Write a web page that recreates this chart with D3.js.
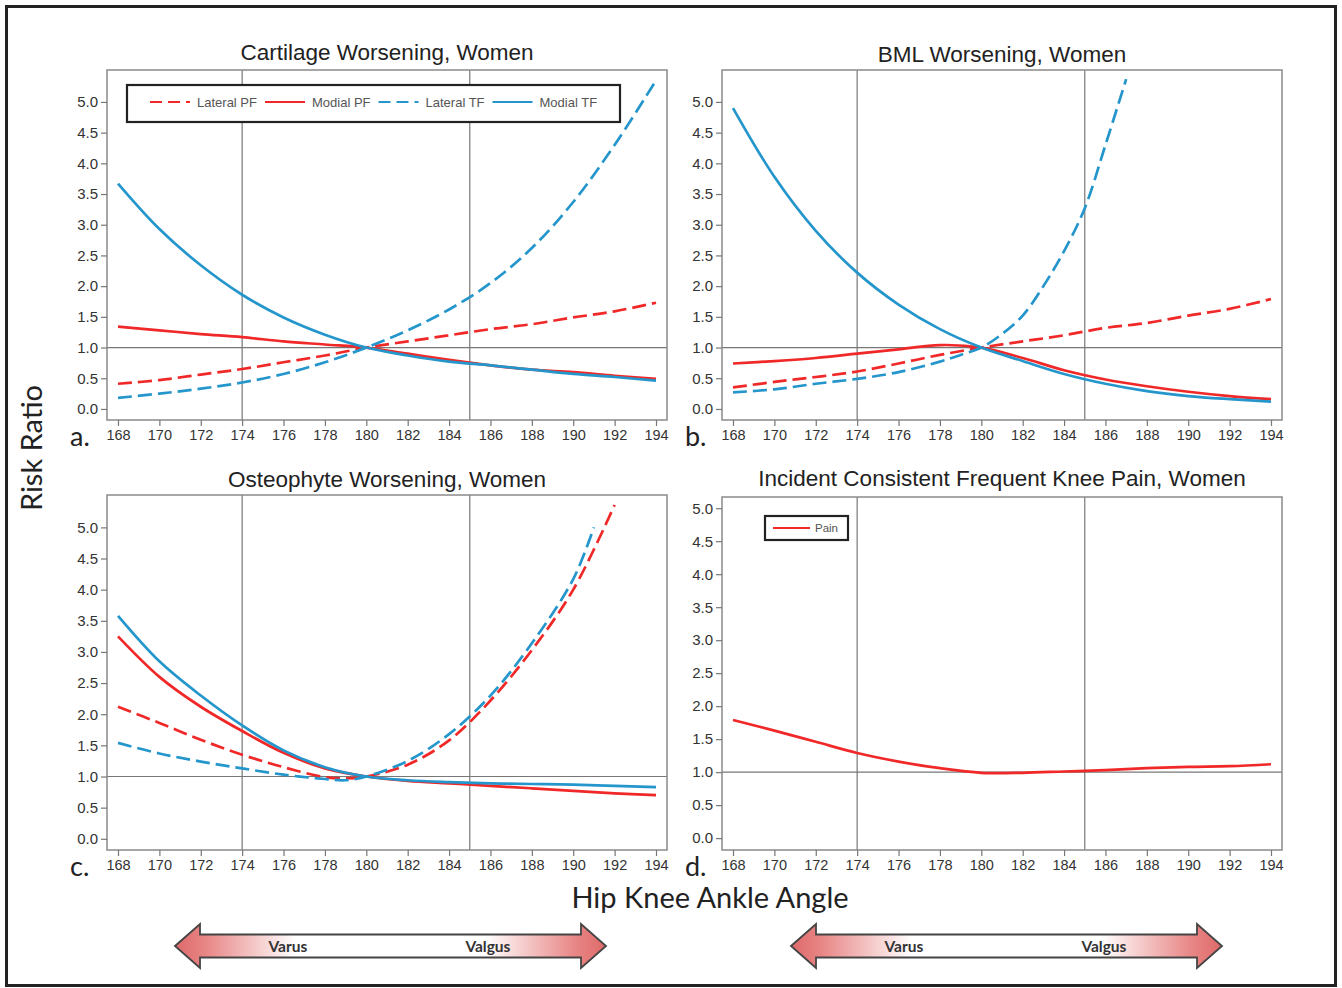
<!DOCTYPE html>
<html>
<head>
<meta charset="utf-8">
<script src="https://cdn.jsdelivr.net/npm/d3@7/dist/d3.min.js"></script>
<style>
  body { margin: 0; background: #fff; }
  svg { display: block; }
</style>
</head>
<body>
<svg width="1342" height="988"></svg>
<script>
// ---- data ----
const angles = [168, 170, 172, 174, 176, 178, 180, 182, 184, 186, 188, 190, 192, 194];
const xTicks = d3.range(168, 195, 2);
const yTicks = [0, 0.5, 1, 1.5, 2, 2.5, 3, 3.5, 4, 4.5, 5];
const refAngles = [174, 185];

// a. cartilage
const cartLatPF = [0.41, 0.47, 0.56, 0.65, 0.76, 0.87, 1.0, 1.10, 1.20, 1.30, 1.38, 1.49, 1.59, 1.73];
const cartModPF = [1.34, 1.28, 1.22, 1.17, 1.10, 1.05, 1.0, 0.90, 0.80, 0.71, 0.64, 0.60, 0.54, 0.49];
const cartLatTF = [0.18, 0.25, 0.33, 0.43, 0.57, 0.76, 1.0, 1.28, 1.62, 2.05, 2.62, 3.37, 4.30, 5.35];
const cartModTF = [3.67, 2.93, 2.34, 1.86, 1.49, 1.21, 1.0, 0.87, 0.77, 0.71, 0.64, 0.57, 0.52, 0.46];

// b. BML
const bmlLatPF = [0.35, 0.44, 0.52, 0.61, 0.74, 0.88, 1.0, 1.10, 1.20, 1.32, 1.40, 1.52, 1.63, 1.79];
const bmlModPF = [0.74, 0.78, 0.83, 0.90, 0.97, 1.04, 1.0, 0.83, 0.63, 0.48, 0.37, 0.28, 0.21, 0.16];
const bmlLatTFAngles = [168, 170, 172, 174, 176, 178, 179, 180, 181, 182, 183, 184, 185, 186, 187];
const bmlLatTF = [0.27, 0.32, 0.41, 0.49, 0.60, 0.77, 0.88, 1.0, 1.22, 1.52, 2.0, 2.57, 3.27, 4.3, 5.37];
const bmlModTF = [4.90, 3.78, 2.90, 2.22, 1.70, 1.30, 1.0, 0.78, 0.57, 0.41, 0.29, 0.21, 0.16, 0.12];

// c. osteophyte
const ostLatPFAngles = [168, 170, 172, 174, 176, 178, 179, 180, 182, 184, 186, 188, 190, 192];
const ostLatPF = [2.12, 1.86, 1.59, 1.35, 1.15, 0.99, 0.97, 1.0, 1.19, 1.58, 2.22, 3.03, 4.0, 5.36];
const ostModPF = [3.25, 2.60, 2.12, 1.73, 1.38, 1.13, 1.0, 0.93, 0.89, 0.85, 0.81, 0.77, 0.73, 0.70];
const ostLatTFAngles = [168, 170, 172, 174, 176, 178, 179, 180, 182, 184, 186, 188, 190, 191];
const ostLatTF = [1.54, 1.37, 1.24, 1.13, 1.03, 0.96, 0.94, 1.0, 1.25, 1.68, 2.30, 3.14, 4.17, 5.0];
const ostModTF = [3.58, 2.85, 2.30, 1.82, 1.42, 1.15, 1.0, 0.94, 0.91, 0.89, 0.88, 0.87, 0.85, 0.83];

// d. pain
const painVals = [1.79, 1.63, 1.46, 1.29, 1.16, 1.06, 0.99, 0.99, 1.01, 1.03, 1.06, 1.08, 1.09, 1.12];

const legendNames = ['Lateral PF', 'Modial PF', 'Lateral TF', 'Modial TF'];

const RED = '#f02828';
const BLUE = '#2596cc';
const DASH = '14,6';

const svg = d3.select('svg');

const pair = (xs, ys) => xs.map((x, i) => [x, ys[i]]);

const panels = [
  { id: 'a', title: 'Cartilage Worsening, Women', x0: 107, y0: 70, h: 350, yTop: 5.52, ty: -10,
    series: [
      { pts: pair(angles, cartLatPF), color: RED, dash: true },
      { pts: pair(angles, cartModPF), color: RED, dash: false },
      { pts: pair(angles, cartLatTF), color: BLUE, dash: true },
      { pts: pair(angles, cartModTF), color: BLUE, dash: false }
    ] },
  { id: 'b', title: 'BML Worsening, Women', x0: 722, y0: 70, h: 350, yTop: 5.52, ty: -8,
    series: [
      { pts: pair(angles, bmlLatPF), color: RED, dash: true },
      { pts: pair(angles, bmlModPF), color: RED, dash: false },
      { pts: pair(bmlLatTFAngles, bmlLatTF), color: BLUE, dash: true },
      { pts: pair(angles, bmlModTF), color: BLUE, dash: false }
    ] },
  { id: 'c', title: 'Osteophyte Worsening, Women', x0: 107, y0: 495, h: 355, yTop: 5.52, ty: -8,
    series: [
      { pts: pair(ostLatPFAngles, ostLatPF), color: RED, dash: true },
      { pts: pair(angles, ostModPF), color: RED, dash: false },
      { pts: pair(ostLatTFAngles, ostLatTF), color: BLUE, dash: true },
      { pts: pair(angles, ostModTF), color: BLUE, dash: false }
    ] },
  { id: 'd', title: 'Incident Consistent Frequent Knee Pain, Women', x0: 722, y0: 497, h: 353, yTop: 5.17, ty: -11,
    series: [
      { pts: pair(angles, painVals), color: RED, dash: false }
    ] }
];

const W = 560;
const FONT = 'Liberation Sans, Arial, sans-serif';

panels.forEach(p => {
  const H = p.h;
  const g = svg.append('g').attr('transform', `translate(${p.x0},${p.y0})`);

  const x = d3.scaleLinear().domain([168, 194]).range([11, W - 11]);
  const y = d3.scaleLinear().domain([-0.18, p.yTop]).range([H, 0]);

  g.append('clipPath').attr('id', 'clip-' + p.id)
    .append('rect').attr('width', W).attr('height', H);

  // reference lines
  g.selectAll('.vref').data(refAngles).enter().append('line')
    .attr('x1', d => x(d)).attr('x2', d => x(d))
    .attr('y1', 0).attr('y2', H)
    .attr('stroke', '#777').attr('stroke-width', 1.2);
  g.append('line')
    .attr('x1', 0).attr('x2', W).attr('y1', y(1)).attr('y2', y(1))
    .attr('stroke', '#777').attr('stroke-width', 1.2);

  const line = d3.line()
    .x(d => x(d[0])).y(d => y(d[1]))
    .curve(d3.curveCatmullRom.alpha(0.5));

  g.append('g').attr('clip-path', `url(#clip-${p.id})`)
    .selectAll('path').data(p.series).enter().append('path')
    .attr('d', d => line(d.pts))
    .attr('fill', 'none')
    .attr('stroke', d => d.color)
    .attr('stroke-width', 2.7)
    .attr('stroke-dasharray', d => d.dash ? DASH : null);

  // frame
  g.append('rect').attr('width', W).attr('height', H)
    .attr('fill', 'none').attr('stroke', '#8a8a8a').attr('stroke-width', 1.5);

  // axes
  const xa = g.append('g').attr('transform', `translate(0,${H})`)
    .call(d3.axisBottom(x).tickValues(xTicks).tickSize(6).tickPadding(4).tickSizeOuter(0));
  const ya = g.append('g')
    .call(d3.axisLeft(y).tickValues(yTicks).tickFormat(d3.format('.1f')).tickSize(6).tickPadding(3).tickSizeOuter(0));
  [xa, ya].forEach(a => {
    a.select('.domain').remove();
    a.selectAll('line').attr('stroke', '#777').attr('stroke-width', 1.2);
    a.selectAll('text').attr('fill', '#333').style('font-family', FONT);
  });
  xa.selectAll('text').style('font-size', '14.5px');
  ya.selectAll('text').style('font-size', '15px');

  // title
  g.append('text').attr('x', W / 2).attr('y', p.ty)
    .attr('text-anchor', 'middle')
    .style('font-family', FONT)
    .style('font-size', '22.5px').attr('fill', '#222')
    .text(p.title);

  // panel letter
  g.append('text').attr('x', -37).attr('y', H + 26)
    .style('font-family', 'Lato, sans-serif').style('font-size', '27px')
    .attr('fill', '#222').text(p.id + '.');
});

// ---- legend, panel a ----
const lg = svg.append('g').attr('transform', 'translate(127,85)');
lg.append('rect').attr('width', 493).attr('height', 37)
  .attr('fill', '#fff').attr('stroke', '#222').attr('stroke-width', 2.2);
const legendStyles = [
  { color: RED, dash: '12,6' }, { color: RED, dash: null },
  { color: BLUE, dash: '12,6' }, { color: BLUE, dash: null }
];
let lx = 23;
legendNames.forEach((name, i) => {
  lg.append('line').attr('x1', lx).attr('x2', lx + 40).attr('y1', 17).attr('y2', 17)
    .attr('stroke', legendStyles[i].color).attr('stroke-width', 2)
    .attr('stroke-dasharray', legendStyles[i].dash);
  const t = lg.append('text').attr('x', lx + 47).attr('y', 21.5)
    .style('font-family', FONT).style('font-size', '13px')
    .attr('fill', '#555').text(name);
  lx += 47 + t.node().getComputedTextLength() + 8;
});

// ---- legend, panel d ----
const ld = svg.append('g').attr('transform', 'translate(765,516)');
ld.append('rect').attr('width', 83).attr('height', 24)
  .attr('fill', '#fff').attr('stroke', '#222').attr('stroke-width', 2.2);
ld.append('line').attr('x1', 8).attr('x2', 45).attr('y1', 12).attr('y2', 12)
  .attr('stroke', RED).attr('stroke-width', 2);
ld.append('text').attr('x', 50).attr('y', 16)
  .style('font-family', FONT).style('font-size', '11.5px')
  .attr('fill', '#555').text('Pain');

// ---- axis titles ----
svg.append('text')
  .attr('transform', 'translate(42,448) rotate(-90)')
  .attr('text-anchor', 'middle')
  .style('font-family', 'Lato, sans-serif').style('font-size', '29px')
  .attr('fill', '#222').text('Risk Ratio');
svg.append('text')
  .attr('x', 710).attr('y', 908).attr('text-anchor', 'middle')
  .style('font-family', 'Lato, sans-serif').style('font-size', '29px')
  .attr('fill', '#222').text('Hip Knee Ankle Angle');

// ---- varus / valgus arrows ----
const defs = svg.append('defs');
const grad = defs.append('linearGradient').attr('id', 'arrowGrad');
[[0, '#de6a6a'], [0.07, '#e88585'], [0.28, '#ffffff'], [0.72, '#ffffff'], [0.93, '#e88585'], [1, '#de6a6a']]
  .forEach(([o, c]) => grad.append('stop').attr('offset', o).attr('stop-color', c));

const arrows = [{ left: 175, right: 606 }, { left: 791, right: 1222 }];
arrows.forEach(a => {
  const cy = 946, head = 25, hh = 22, sh = 11.5;
  const pts = [
    [a.left, cy], [a.left + head, cy - hh], [a.left + head, cy - sh],
    [a.right - head, cy - sh], [a.right - head, cy - hh], [a.right, cy],
    [a.right - head, cy + hh], [a.right - head, cy + sh],
    [a.left + head, cy + sh], [a.left + head, cy + hh]
  ];
  svg.append('path')
    .attr('d', d3.line()(pts) + 'Z')
    .attr('fill', 'url(#arrowGrad)')
    .attr('stroke', '#444').attr('stroke-width', 1.8)
    .attr('stroke-linejoin', 'miter');
  const len = a.right - a.left;
  [['Varus', 0.262], ['Valgus', 0.726]].forEach(([txt, f]) => {
    svg.append('text').attr('x', a.left + len * f).attr('y', cy + 6)
      .attr('text-anchor', 'middle')
      .style('font-family', 'Lato, sans-serif').style('font-weight', 'bold')
      .style('font-size', '15.5px').attr('fill', '#333').text(txt);
  });
});

// outer border
svg.append('rect').attr('x', 6.5).attr('y', 6.5).attr('width', 1329).attr('height', 979)
  .attr('fill', 'none').attr('stroke', '#222').attr('stroke-width', 3);
</script>
</body>
</html>
